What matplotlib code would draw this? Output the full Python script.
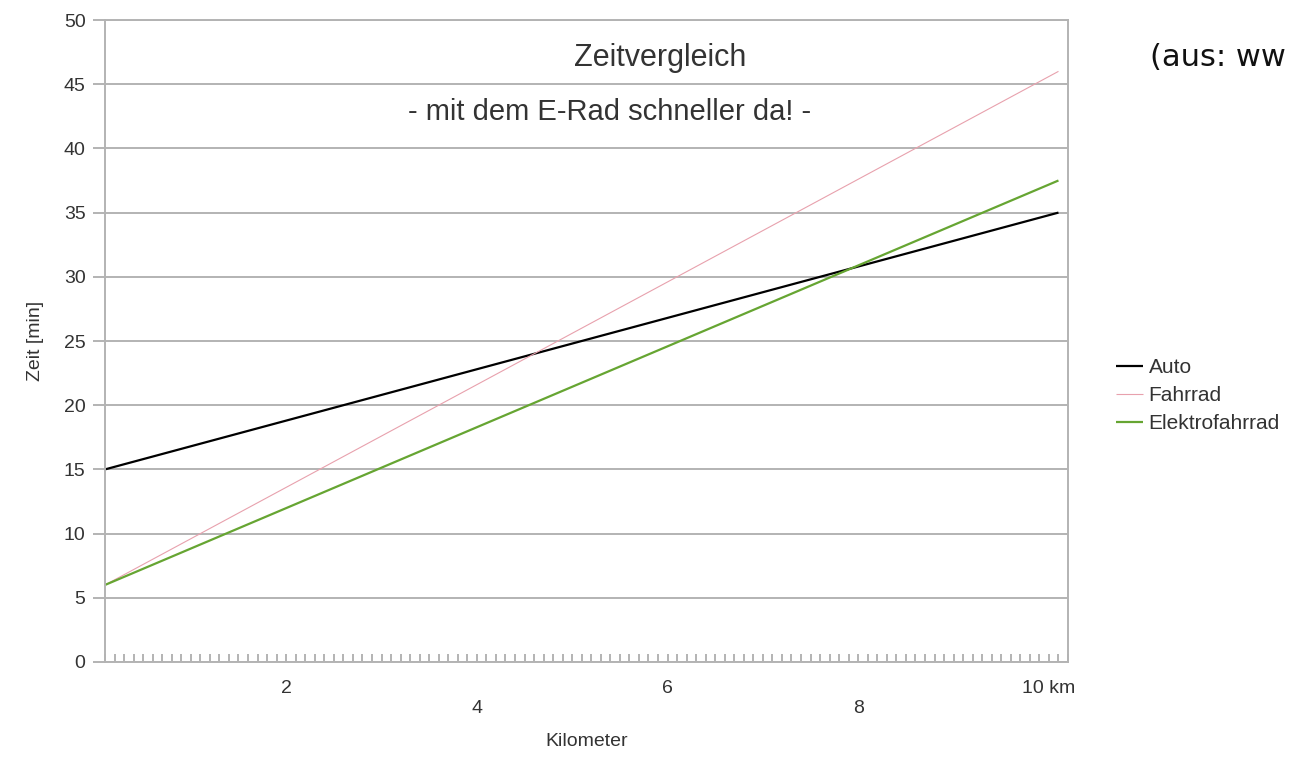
import matplotlib
matplotlib.use('Agg')
import matplotlib.pyplot as plt
from matplotlib.ticker import MultipleLocator

# distance in km (first and last category) and travel times in minutes
km = [0.1, 10.1]
auto = [15.0, 35.0]
fahrrad = [6.0, 46.0]
elektrofahrrad = [6.0, 37.5]

series_names = ["Auto", "Fahrrad", "Elektrofahrrad"]
series_colors = ["#000000", "#e8a1ad", "#66a532"]
series_widths = [1.6, 0.8, 1.6]

x_label_pos = [2, 4, 6, 8, 10]
x_label_text = ["2", "\n4", "6", "\n8", "10 km"]

grey = "#b3b3b3"
text_grey = "#333333"

plt.rcParams['font.family'] = ['Liberation Sans', 'DejaVu Sans']

fig = plt.figure(figsize=(12.89, 7.64), dpi=100)
ax = fig.add_axes([105 / 1289, 1 - 662 / 764, (1068 - 105) / 1289, (662 - 20) / 764])

for vals, name, col, lw in zip([auto, fahrrad, elektrofahrrad], series_names, series_colors, series_widths):
    ax.plot(km, vals, color=col, lw=lw, label=name, solid_capstyle='butt')

ax.set_xlim(0.1, 10.2)
ax.set_ylim(0, 50)
ax.yaxis.set_major_locator(MultipleLocator(5))
ax.grid(axis='y', color=grey, lw=1.4)
ax.set_axisbelow(True)
for sp in ax.spines.values():
    sp.set_color(grey)
    sp.set_linewidth(1.4)

ax.tick_params(axis='y', direction='out', length=9, width=1.4, color=grey,
               labelsize=14, labelcolor=text_grey, pad=5)

# tiny ticks for every 0.1 km, labels only every 2 km
ax.xaxis.set_minor_locator(MultipleLocator(0.1))
ax.set_xticks(x_label_pos)
ax.set_xticklabels(x_label_text)
ax.tick_params(axis='x', which='both', direction='in', length=6, width=1.4, color=grey)
ax.tick_params(axis='x', which='major', labelsize=14, labelcolor=text_grey, pad=13)

ax.set_xlabel("Kilometer", fontsize=14, color=text_grey, labelpad=12)
ax.set_ylabel("Zeit [min]", fontsize=14, color=text_grey, labelpad=14)

fig.text(660 / 1289, 1 - 58 / 764, "Zeitvergleich", fontsize=22, color=text_grey,
         ha='center', va='center')
fig.text(610 / 1289, 1 - 112 / 764, "- mit dem E-Rad schneller da! -", fontsize=21,
         color=text_grey, ha='center', va='center')
fig.text(1150 / 1289, 1 - 58 / 764, "(aus: ww", fontsize=22, family='DejaVu Sans',
         color='#111111', ha='left', va='center')

leg = fig.legend(loc='upper left', bbox_to_anchor=(1108 / 1289, 1 - 350 / 764),
                 frameon=False, fontsize=15, handlelength=1.3, handletextpad=0.25,
                 labelspacing=0.42, borderaxespad=0)
for t in leg.get_texts():
    t.set_color(text_grey)

fig.savefig("out.png", dpi=100)
plt.close(fig)
